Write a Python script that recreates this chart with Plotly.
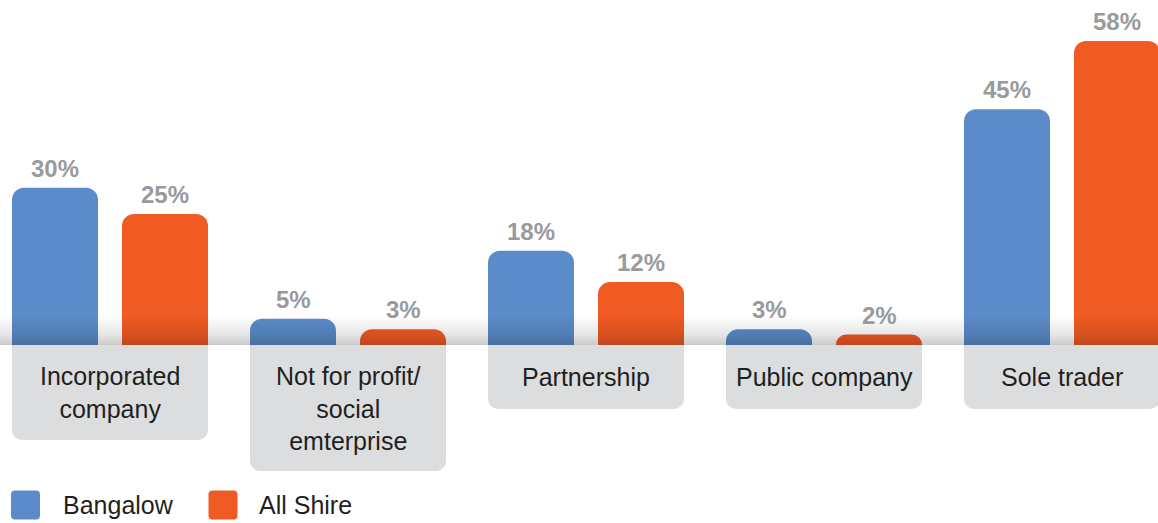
import numpy as np
import plotly.graph_objects as go

# ---- data ----
categories = [
    "Incorporated<br>company",
    "Not for profit/<br>social<br>emterprise",
    "Partnership",
    "Public company",
    "Sole trader",
]
series_names = ["Bangalow", "All Shire"]
bangalow = [30, 5, 18, 3, 45]
all_shire = [25, 3, 12, 2, 58]

# ---- styling ----
BLUE = "#5b8bc9"
ORANGE = "#f05a23"
BOX = "#dcdddf"
VALUE_GREY = "#999a9c"
INK = "#231f20"
W, H = 1158, 523

PX_PER_PCT = 5.24        # vertical scale
BASE_PX = 345            # pixel row of the zero line
PX_PER_CAT = 238         # horizontal spacing of category groups
FIRST_CAT_PX = 110       # centre of the first group

pos = np.arange(len(categories))
bar_w = 86 / PX_PER_CAT
blue_off = -98 / PX_PER_CAT
orange_off = 12 / PX_PER_CAT
box_w = 196 / PX_PER_CAT

y_top = BASE_PX / PX_PER_PCT
y_bot = -(H - BASE_PX) / PX_PER_PCT
x_lo = -FIRST_CAT_PX / PX_PER_CAT
x_hi = (W - FIRST_CAT_PX) / PX_PER_CAT

# depth of the grey label tab below the zero line, by number of text lines
n_lines = [c.count("<br>") + 1 for c in categories]
box_depth = [(33 + 31 * n) / PX_PER_PCT for n in n_lines]

fig = go.Figure()

# grey label tabs hanging from the zero line
fig.add_trace(go.Bar(
    x=pos, y=[-d for d in box_depth], width=box_w, offset=blue_off,
    marker=dict(color=BOX, line=dict(width=0), cornerradius=10),
    hoverinfo="skip", showlegend=False,
))

# the two series
fig.add_trace(go.Bar(
    x=pos, y=bangalow, name=series_names[0], width=bar_w, offset=blue_off,
    marker=dict(color=BLUE, line=dict(width=0), cornerradius=12),
    showlegend=False,
))
fig.add_trace(go.Bar(
    x=pos, y=all_shire, name=series_names[1], width=bar_w, offset=orange_off,
    marker=dict(color=ORANGE, line=dict(width=0), cornerradius=12),
    showlegend=False,
))

# soft shadow band just above the zero line
g_h = 30 / PX_PER_PCT
fig.add_trace(go.Scatter(
    x=[x_lo, x_hi, x_hi, x_lo, x_lo], y=[0, 0, g_h, g_h, 0],
    mode="lines", line=dict(width=0), fill="toself",
    fillgradient=dict(
        type="vertical",
        colorscale=[[0, "rgba(0,0,0,0.21)"], [0.35, "rgba(0,0,0,0.1)"],
                    [1, "rgba(0,0,0,0)"]],
    ),
    hoverinfo="skip", showlegend=False,
))

annotations = []
# value labels above each bar
for vals, off in ((bangalow, blue_off), (all_shire, orange_off)):
    for i, v in enumerate(vals):
        annotations.append(dict(
            x=i + off + bar_w / 2, y=v, xref="x", yref="y",
            text=f"{v}%", showarrow=False, xanchor="center", yanchor="bottom",
            yshift=4,
            font=dict(family="Liberation Sans, Arial, sans-serif", size=24,
                      color=VALUE_GREY, weight="bold"),
        ))
# category names inside the tabs
for i, (c, d) in enumerate(zip(categories, box_depth)):
    annotations.append(dict(
        x=i + blue_off + box_w / 2, y=-d / 2, xref="x", yref="y",
        text=c, showarrow=False, xanchor="center", yanchor="middle",
        font=dict(family="Liberation Sans, Arial, sans-serif", size=25, color=INK),
    ))

# legend: rounded swatches + labels
def rounded_square(half, r):
    a, b = -half, half
    return (f"M{a + r},{a} L{b - r},{a} Q{b},{a} {b},{a + r} L{b},{b - r} "
            f"Q{b},{b} {b - r},{b} L{a + r},{b} Q{a},{b} {a},{b - r} "
            f"L{a},{a + r} Q{a},{a} {a + r},{a} Z")

shapes = []
legend_y_px = 505
for name, color, sw_x, tx_x in ((series_names[0], BLUE, 25.5, 61),
                                (series_names[1], ORANGE, 223, 257)):
    shapes.append(dict(
        type="path", xref="paper", yref="paper",
        xsizemode="pixel", ysizemode="pixel",
        xanchor=sw_x / W, yanchor=1 - legend_y_px / H,
        path=rounded_square(14.5, 4),
        fillcolor=color, line=dict(width=0),
    ))
    annotations.append(dict(
        x=tx_x / W, y=1 - legend_y_px / H, xref="paper", yref="paper",
        text=name, showarrow=False, xanchor="left", yanchor="middle",
        font=dict(family="Liberation Sans, Arial, sans-serif", size=25, color=INK),
    ))

fig.update_layout(
    width=W, height=H,
    margin=dict(l=0, r=0, t=0, b=0),
    paper_bgcolor="white", plot_bgcolor="white",
    barmode="overlay",
    xaxis=dict(range=[x_lo, x_hi], visible=False, fixedrange=True),
    yaxis=dict(range=[y_bot, y_top], visible=False, fixedrange=True),
    annotations=annotations, shapes=shapes,
    showlegend=False,
)

fig.write_html("out.html", config={"displayModeBar": False})
